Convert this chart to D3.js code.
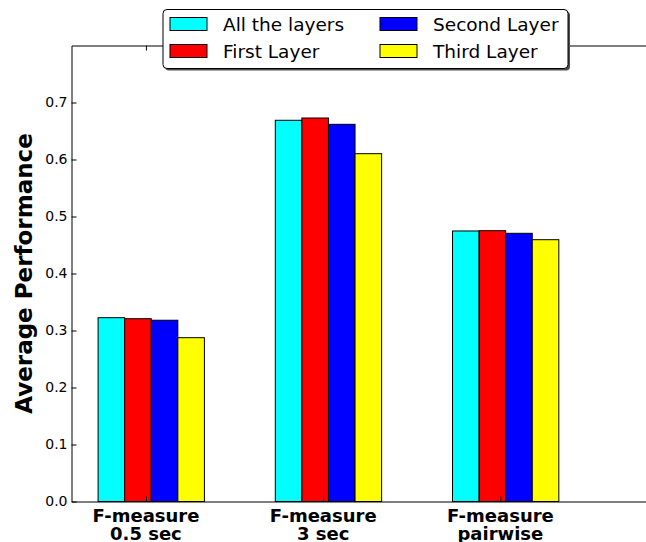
<!DOCTYPE html>
<html>
<head>
<meta charset="utf-8">
<script src="https://cdn.jsdelivr.net/npm/d3@7"></script>
<style>
  html, body { margin: 0; padding: 0; background: #fff; }
  svg { display: block; }
  text { font-family: "DejaVu Sans", sans-serif; }
</style>
</head>
<body>
<svg id="chart" width="646" height="542"></svg>
<script>
// Groups of the bar chart (each label on two lines)
const categories = [["F-measure", "0.5 sec"], ["F-measure", "3 sec"], ["F-measure", "pairwise"]];

// Series
const seriesNames = ["All the layers", "First Layer", "Second Layer", "Third Layer"];
const seriesColors = ["#00ffff", "#ff0000", "#0000ff", "#ffff00"];
const allLayers    = [0.3225, 0.6688, 0.4746];
const firstLayer   = [0.3207, 0.6728, 0.4751];
const secondLayer  = [0.3180, 0.6617, 0.4705];
const thirdLayer   = [0.2874, 0.6102, 0.4593];
const seriesValues = [allLayers, firstLayer, secondLayer, thirdLayer];

// Y axis ticks
const yTicks = [0.0, 0.1, 0.2, 0.3, 0.4, 0.5, 0.6, 0.7];
const yTickLabels = ["0.0", "0.1", "0.2", "0.3", "0.4", "0.5", "0.6", "0.7"];

const barWidth = 0.15;
const tickOffset = 0.27;

const svg = d3.select("#chart");

const x = d3.scaleLinear().domain([-0.15, 3.15]).range([71.5, 656.3]);
const y = d3.scaleLinear().domain([0, 0.8]).range([501.5, 45.5]);

// Bars
const bars = svg.append("g");
seriesValues.forEach((vals, j) => {
  bars.selectAll(null)
    .data(vals)
    .enter()
    .append("rect")
    .attr("x", (d, i) => x(i + j * barWidth))
    .attr("y", d => y(d))
    .attr("width", x(barWidth) - x(0))
    .attr("height", d => y(0) - y(d))
    .attr("fill", seriesColors[j])
    .attr("stroke", "#000")
    .attr("stroke-width", 1);
});

const tickPos = categories.map((c, i) => i + tickOffset);

// Left axis (ticks inward)
const yAxis = svg.append("g")
  .attr("transform", `translate(${x(-0.15)},0)`)
  .call(d3.axisLeft(y).tickValues(yTicks)
    .tickFormat((d, i) => yTickLabels[i])
    .tickSizeInner(-5).tickSizeOuter(0).tickPadding(4));
yAxis.selectAll("text").attr("font-size", 14).attr("font-family", "DejaVu Sans").attr("fill", "#000");

// Right spine
svg.append("g")
  .attr("transform", `translate(${x(3.15)},0)`)
  .call(d3.axisRight(y).tickValues(yTicks).tickFormat("")
    .tickSizeInner(-5).tickSizeOuter(0));

// Bottom axis (ticks inward, labels drawn separately)
svg.append("g")
  .attr("transform", `translate(0,${y(0)})`)
  .call(d3.axisBottom(x).tickValues(tickPos).tickFormat("")
    .tickSizeInner(-5).tickSizeOuter(0));

// Top axis
svg.append("g")
  .attr("transform", `translate(0,${y(0.8)})`)
  .call(d3.axisTop(x).tickValues(tickPos).tickFormat("")
    .tickSizeInner(-5).tickSizeOuter(0));

svg.selectAll(".domain, .tick line").attr("stroke", "#000").attr("stroke-width", 1);

// Category labels
categories.forEach((lines, i) => {
  const t = svg.append("text")
    .attr("text-anchor", "middle")
    .attr("font-size", 18)
    .attr("font-weight", "bold")
    .attr("fill", "#000");
  lines.forEach((ln, k) => {
    t.append("tspan")
      .attr("x", x(tickPos[i]))
      .attr("y", 521.5 + k * 18.5)
      .text(ln);
  });
});

// Y axis title
svg.append("text")
  .attr("transform", `translate(32,${(y(0) + y(0.8)) / 2}) rotate(-90)`)
  .attr("text-anchor", "middle")
  .attr("font-size", 23)
  .attr("font-weight", "bold")
  .attr("fill", "#000")
  .text("Average Performance");

// Legend
const legend = svg.append("g");
const lx = 163, ly = 9.5, lw = 405, lh = 59;
legend.append("rect")
  .attr("x", lx + 2).attr("y", ly + 2).attr("width", lw).attr("height", lh)
  .attr("rx", 4).attr("fill", "#4d4d4d");
legend.append("rect")
  .attr("x", lx).attr("y", ly).attr("width", lw).attr("height", lh)
  .attr("rx", 4).attr("fill", "#fff").attr("stroke", "#000").attr("stroke-width", 1);

const colX = [170, 380];
const rowY = [17.5, 44.5];
seriesNames.forEach((name, j) => {
  const col = Math.floor(j / 2), row = j % 2;
  legend.append("rect")
    .attr("x", colX[col]).attr("y", rowY[row])
    .attr("width", 37).attr("height", 13)
    .attr("fill", seriesColors[j]).attr("stroke", "#000").attr("stroke-width", 1);
  legend.append("text")
    .attr("x", colX[col] + 53).attr("y", rowY[row] + 13)
    .attr("font-size", 18.5)
    .attr("fill", "#000")
    .text(name);
});
</script>
</body>
</html>
